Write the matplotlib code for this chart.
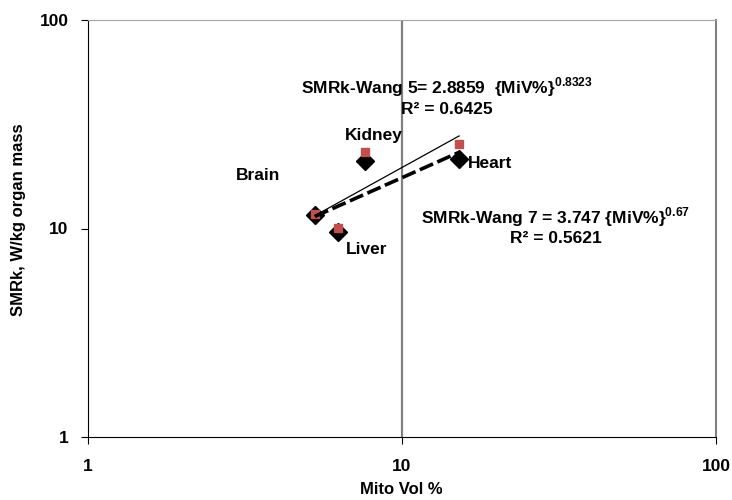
import numpy as np
import matplotlib
matplotlib.use("Agg")
import matplotlib.pyplot as plt

plt.rcParams['font.family'] = ['Liberation Sans', 'DejaVu Sans']
plt.rcParams['font.weight'] = 'bold'
plt.rcParams['mathtext.fontset'] = 'custom'
plt.rcParams['mathtext.rm'] = 'Liberation Sans:bold'
plt.rcParams['mathtext.bf'] = 'Liberation Sans:bold'

# Daten
organs = ['Brain', 'Liver', 'Kidney', 'Heart']
mito_vol = [5.28, 6.24, 7.62, 15.2]
smrk_wang7 = [11.6, 9.65, 21.1, 21.5]    # schwarze Rauten
smrk_wang5 = [11.7, 10.05, 23.4, 25.3]   # rote Quadrate

# Trendlinien (Potenzfunktionen aus der Grafik)
a5, b5 = 2.8859, 0.8323
a7, b7 = 3.747, 0.67

fig = plt.figure(figsize=(7.32, 5.0), dpi=100)
ax = fig.add_axes([88/732, 63/500, 628/732, 417/500])

ax.set_xscale('log')
ax.set_yscale('log')
ax.set_xlim(1, 100)
ax.set_ylim(1, 100)

# vertikale Linie bei x = 10
ax.axvline(10, color='#808080', lw=1.6, zorder=1)

ax.plot(mito_vol, smrk_wang7, 'D', color='black', markersize=9, zorder=3, linestyle='none')
ax.plot(mito_vol, smrk_wang5, 's', color='#C0504D', markersize=6, zorder=4, linestyle='none')

xf = np.linspace(min(mito_vol), max(mito_vol), 50)
ax.plot(xf, a5 * xf**b5, color='black', lw=0.9, zorder=5)
ax.plot(xf, a7 * xf**b7, color='black', lw=2.6, dashes=(4, 1.3), zorder=5)

# Beschriftungen der Organe
ax.text(3.48, 17.9, 'Brain', ha='center', va='center', fontsize=12.5, fontweight='bold')
ax.text(8.15, 27.8, 'Kidney', ha='center', va='center', fontsize=12.5, fontweight='bold')
ax.text(16.2, 20.6, 'Heart', ha='left', va='center', fontsize=12.5, fontweight='bold')
ax.text(7.74, 7.89, 'Liver', ha='center', va='center', fontsize=12.5, fontweight='bold')

# Gleichungen
ax.text(13.9, 43.2, 'SMRk-Wang 5= 2.8859  {MiV%}$^{0.8323}$\nR² = 0.6425',
        ha='center', va='center', multialignment='center', fontsize=12.5, fontweight='bold')
ax.text(30.9, 10.3, 'SMRk-Wang 7 = 3.747 {MiV%}$^{0.67}$\nR² = 0.5621',
        ha='center', va='center', multialignment='center', fontsize=12.5, fontweight='bold')

# Achsen
ax.spines['top'].set_color('#a6a6a6')
ax.spines['right'].set_color('#808080')
ax.spines['right'].set_linewidth(1.5)
ax.spines['left'].set_color('black')
ax.spines['bottom'].set_color('black')

ax.set_xticks([1, 10, 100])
ax.set_yticks([1, 10, 100])
ax.set_xticklabels(['1', '10', '100'])
ax.set_yticklabels(['1', '10', '100'])
ax.minorticks_off()
ax.tick_params(direction='out', length=5, labelsize=12.5)
ax.tick_params(axis='x', pad=11)
ax.tick_params(axis='y', pad=9)
for lab in ax.get_xticklabels() + ax.get_yticklabels():
    lab.set_fontweight('bold')

fig.text(401/732, 1 - 490/500, 'Mito Vol %', ha='center', va='center',
         fontsize=12, fontweight='bold')
fig.text(19/732, 1 - 220/500, 'SMRk, W/kg organ mass', ha='center', va='center',
         rotation=90, fontsize=12, fontweight='bold')

fig.savefig('out.png', dpi=100)
